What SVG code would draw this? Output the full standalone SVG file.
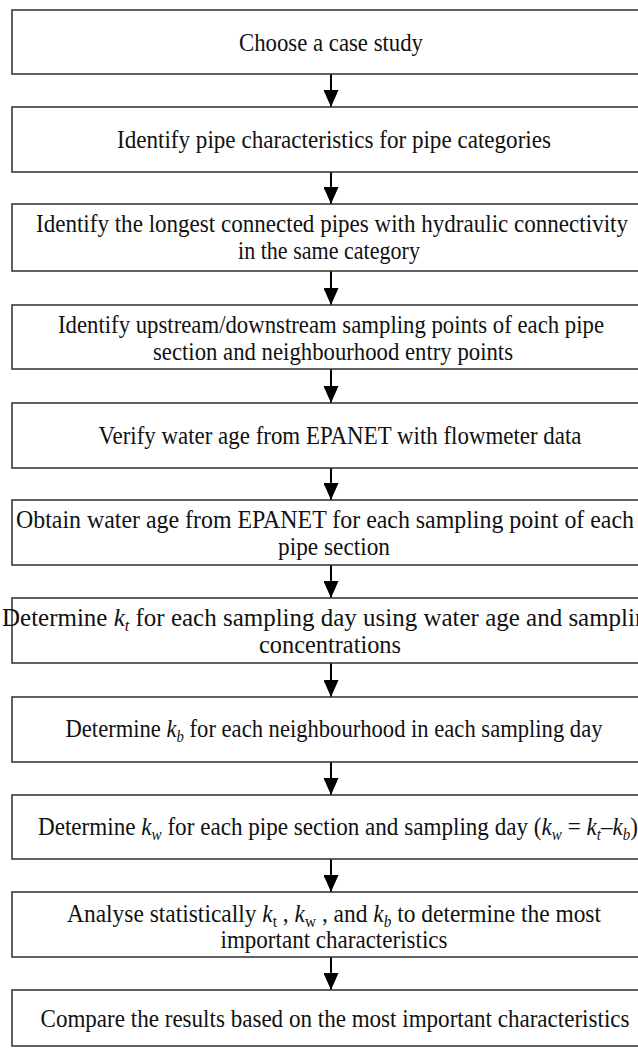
<svg xmlns="http://www.w3.org/2000/svg" width="638" height="1051" viewBox="0 0 638 1051">
<defs>
<style>
.box{fill:#fff;stroke:#3a3a3a;stroke-width:1.6}
.t{font-family:"Liberation Serif","Times New Roman",serif;font-size:24.5px;fill:#111;text-anchor:middle}
.k{font-style:italic}
.s{font-size:16px}
.si{font-size:16px;font-style:italic}
.arr{stroke:#000;stroke-width:2;fill:none}
</style>
<marker id="ah" viewBox="0 0 17 15" refX="17" refY="7.5" markerWidth="17" markerHeight="15" markerUnits="userSpaceOnUse" orient="auto">
<path d="M0,0 L17,7.5 L0,15 Z" fill="#000"/>
</marker>
</defs>
<rect width="638" height="1051" fill="#fff"/>
<g id="connectors">
<line class="arr" x1="331" y1="74" x2="331" y2="107" marker-end="url(#ah)"/>
<line class="arr" x1="331" y1="172" x2="331" y2="204" marker-end="url(#ah)"/>
<line class="arr" x1="331" y1="271" x2="331" y2="305" marker-end="url(#ah)"/>
<line class="arr" x1="331" y1="369" x2="331" y2="403" marker-end="url(#ah)"/>
<line class="arr" x1="331" y1="468" x2="331" y2="500" marker-end="url(#ah)"/>
<line class="arr" x1="331" y1="565" x2="331" y2="598" marker-end="url(#ah)"/>
<line class="arr" x1="331" y1="663" x2="331" y2="697" marker-end="url(#ah)"/>
<line class="arr" x1="331" y1="762" x2="331" y2="795" marker-end="url(#ah)"/>
<line class="arr" x1="331" y1="859" x2="331" y2="892" marker-end="url(#ah)"/>
<line class="arr" x1="331" y1="957" x2="331" y2="990" marker-end="url(#ah)"/>
</g>
<g id="n1"><rect class="box" x="12" y="10" width="640" height="64"/>
<text class="t" x="331" y="51" textLength="184" lengthAdjust="spacingAndGlyphs">Choose a case study</text></g>
<g id="n2"><rect class="box" x="12" y="107" width="640" height="65"/>
<text class="t" x="334" y="148" textLength="434" lengthAdjust="spacingAndGlyphs">Identify pipe characteristics for pipe categories</text></g>
<g id="n3"><rect class="box" x="12" y="204" width="640" height="67"/>
<text class="t" x="332" y="232" textLength="592" lengthAdjust="spacingAndGlyphs">Identify the longest connected pipes with hydraulic connectivity</text>
<text class="t" x="329" y="259" textLength="182" lengthAdjust="spacingAndGlyphs">in the same category</text></g>
<g id="n4"><rect class="box" x="12" y="305" width="640" height="64"/>
<text class="t" x="331" y="333" textLength="546" lengthAdjust="spacingAndGlyphs">Identify upstream/downstream sampling points of each pipe</text>
<text class="t" x="333" y="360" textLength="360" lengthAdjust="spacingAndGlyphs">section and neighbourhood entry points</text></g>
<g id="n5"><rect class="box" x="12" y="403" width="640" height="65"/>
<text class="t" x="340" y="444" textLength="483" lengthAdjust="spacingAndGlyphs">Verify water age from EPANET with flowmeter data</text></g>
<g id="n6"><rect class="box" x="12" y="500" width="640" height="65"/>
<text class="t" x="325" y="528" textLength="618" lengthAdjust="spacingAndGlyphs">Obtain water age from EPANET for each sampling point of each</text>
<text class="t" x="334" y="555" textLength="112" lengthAdjust="spacingAndGlyphs">pipe section</text></g>
<g id="n7"><rect class="box" x="12" y="598" width="640" height="65"/>
<text class="t" x="331" y="626" textLength="658" lengthAdjust="spacingAndGlyphs">Determine <tspan class="k">k</tspan><tspan class="si" dy="5">t</tspan><tspan dy="-5"> for each sampling day using water age and sampling</tspan></text>
<text class="t" x="330" y="653" textLength="142" lengthAdjust="spacingAndGlyphs">concentrations</text></g>
<g id="n8"><rect class="box" x="12" y="697" width="640" height="65"/>
<text class="t" x="334" y="737" textLength="537" lengthAdjust="spacingAndGlyphs">Determine <tspan class="k">k</tspan><tspan class="si" dy="5">b</tspan><tspan dy="-5"> for each neighbourhood in each sampling day</tspan></text></g>
<g id="n9"><rect class="box" x="12" y="795" width="640" height="64"/>
<text class="t" x="338" y="835" textLength="600" lengthAdjust="spacingAndGlyphs">Determine <tspan class="k">k</tspan><tspan class="si" dy="5">w</tspan><tspan dy="-5"> for each pipe section and sampling day (</tspan><tspan class="k">k</tspan><tspan class="si" dy="5">w</tspan><tspan dy="-5"> = </tspan><tspan class="k">k</tspan><tspan class="si" dy="5">t</tspan><tspan dy="-5">–</tspan><tspan class="k">k</tspan><tspan class="si" dy="5">b</tspan><tspan dy="-5">)</tspan></text></g>
<g id="n10"><rect class="box" x="12" y="892" width="640" height="65"/>
<text class="t" x="334" y="922" textLength="534" lengthAdjust="spacingAndGlyphs">Analyse statistically <tspan class="k">k</tspan><tspan class="s" dy="5">t</tspan><tspan dy="-5"> , </tspan><tspan class="k">k</tspan><tspan class="s" dy="5">w</tspan><tspan dy="-5"> , and </tspan><tspan class="k">k</tspan><tspan class="si" dy="5">b</tspan><tspan dy="-5"> to determine the most</tspan></text>
<text class="t" x="334" y="948" textLength="227" lengthAdjust="spacingAndGlyphs">important characteristics</text></g>
<g id="n11"><rect class="box" x="12" y="990" width="640" height="56"/>
<text class="t" x="335" y="1027" textLength="589" lengthAdjust="spacingAndGlyphs">Compare the results based on the most important characteristics</text></g>
</svg>
